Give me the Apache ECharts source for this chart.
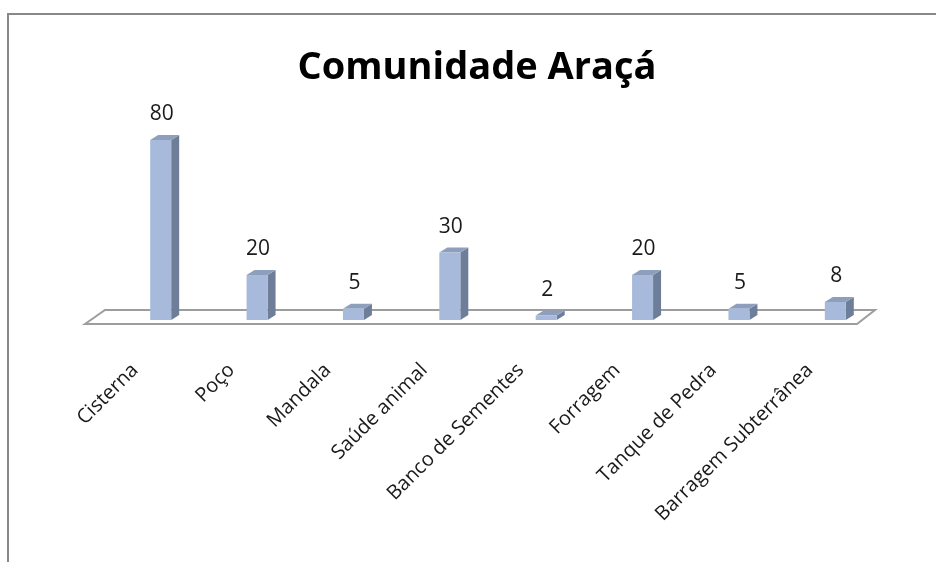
<!DOCTYPE html>
<html>
<head>
<meta charset="utf-8">
<script src="https://cdn.jsdelivr.net/npm/echarts@6/dist/echarts.min.js"></script>
<style>html,body{margin:0;padding:0;background:#fff}#c{width:936px;height:562px}</style>
</head>
<body>
<div id="c"></div>
<script>
var titleText = 'Comunidade Araçá';
var categories = ['Cisterna', 'Poço', 'Mandala', 'Saúde animal', 'Banco de Sementes', 'Forragem', 'Tanque de Pedra', 'Barragem Subterrânea'];
var values = [80, 20, 5, 30, 2, 20, 5, 8];

var chart = echarts.init(document.getElementById('c'));
var FRONT = '#a8badb', SIDE = '#6e7e98', TOP = '#8e9fbd';
var HALF = 10.5, DX = 8, DY = -5;

function renderBar(params, api) {
  var idx = api.value(0), v = api.value(1);
  var p0 = api.coord([idx, 0]);
  var p1 = api.coord([idx, v]);
  var cx = p0[0] + 0.5, x0 = cx - HALF, x1 = cx + HALF, yb = p0[1], yt = p1[1] ;
  return {
    type: 'group',
    children: [
      {type: 'polygon', shape: {points: [[x1, yb], [x1 + DX, yb + DY], [x1 + DX, yt + DY], [x1, yt]]}, style: {fill: SIDE}},
      {type: 'polygon', shape: {points: [[x0, yt], [x1, yt], [x1 + DX, yt + DY], [x0 + DX, yt + DY]]}, style: {fill: TOP}},
      {type: 'rect', shape: {x: x0, y: yt, width: x1 - x0, height: yb - yt}, style: {fill: FRONT}},
      {type: 'text', style: {text: String(v), x: cx + 1, y: yt + DY - 10, align: 'center', verticalAlign: 'bottom', fill: '#1a1a1a', font: '21px "Open Sans", sans-serif'}}
    ]
  };
}

function renderFloor(params, api) {
  var cs = params.coordSys;
  var y0 = api.coord([0, 0])[1];
  var L = cs.x, R = cs.x + cs.width;
  return {
    type: 'polygon',
    shape: {points: [[L - 27, y0 + 4], [L - 7, y0 - 10], [R - 8, y0 - 10], [R - 26, y0 + 4]]},
    style: {fill: 'none', stroke: '#9d9d9d', lineWidth: 2}
  };
}

chart.setOption({
  animation: false,
  backgroundColor: '#ffffff',
  title: {
    text: titleText, left: 472, top: 44, textAlign: 'center',
    textStyle: {fontFamily: '"Open Sans", sans-serif', fontWeight: 'bold', fontSize: 38, color: '#000'}
  },
  graphic: [{type: 'rect', shape: {x: 8, y: 14, width: 1000, height: 700}, style: {fill: 'none', stroke: '#888', lineWidth: 2}, silent: true}],
  grid: [
    {left: 112, right: 53, top: 95, bottom: 242},
    {left: 87, right: 78, top: 95, bottom: 242}
  ],
  xAxis: [
    {type: 'category', data: categories, gridIndex: 0, axisLine: {show: false}, axisTick: {show: false}, axisLabel: {show: false}},
    {type: 'category', data: categories, gridIndex: 1, axisLine: {show: false}, axisTick: {show: false},
     axisLabel: {show: true, interval: 0, rotate: 45, margin: 47, color: '#1a1a1a', fontSize: 20, fontFamily: '"Open Sans", sans-serif'}}
  ],
  yAxis: [
    {type: 'value', min: 0, max: 100, gridIndex: 0, show: false},
    {type: 'value', min: 0, max: 100, gridIndex: 1, show: false}
  ],
  series: [
    {type: 'custom', xAxisIndex: 0, yAxisIndex: 0, renderItem: renderFloor, data: [[0, 0]], z: 1, silent: true},
    {type: 'custom', xAxisIndex: 0, yAxisIndex: 0, renderItem: renderBar, data: values.map(function (v, i) { return [i, v]; }), z: 2},
    {type: 'custom', xAxisIndex: 1, yAxisIndex: 1, renderItem: function () { return null; }, data: []}
  ]
});
</script>
</body>
</html>
